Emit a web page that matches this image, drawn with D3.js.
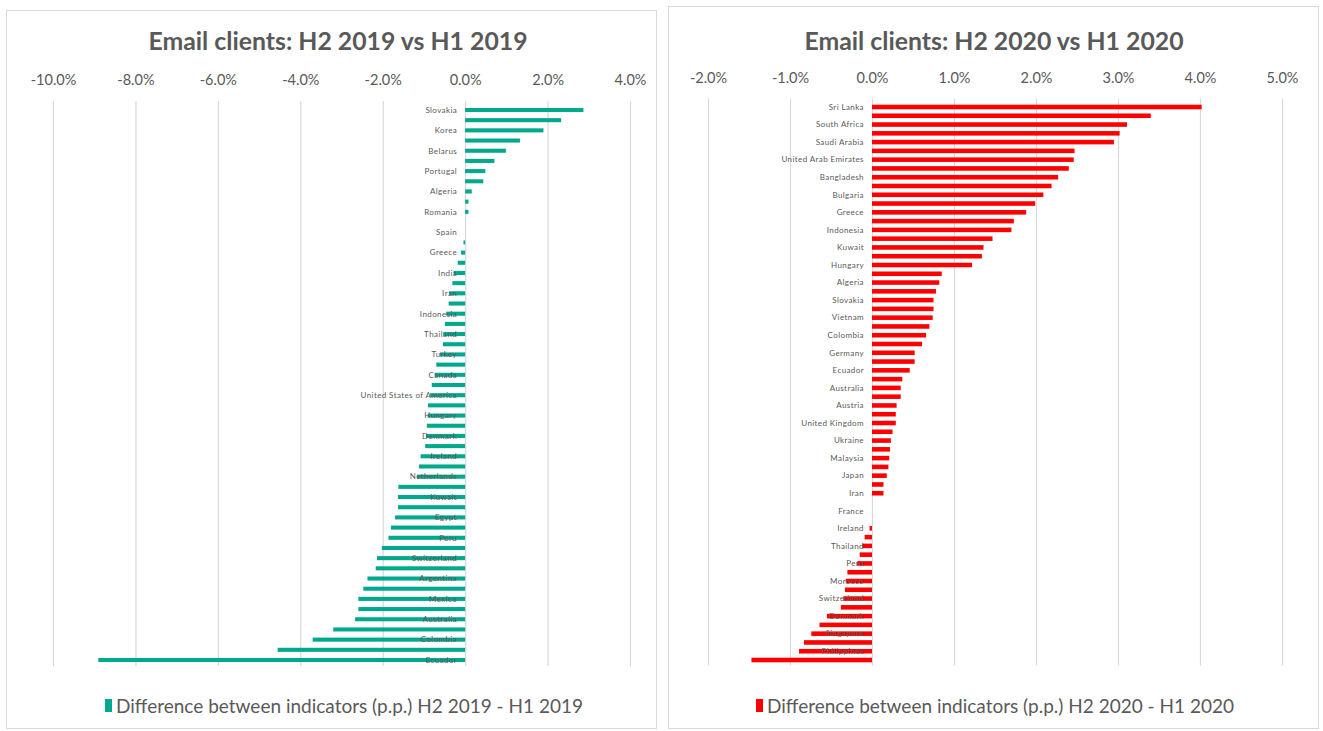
<!DOCTYPE html>
<html>
<head>
<meta charset="utf-8">
<script src="https://cdn.jsdelivr.net/npm/d3@7"></script>
<style>
  body { margin: 0; background: #ffffff; }
  svg { font-family: Lato, "Open Sans", sans-serif; }
</style>
</head>
<body>
<div id="chart"></div>
<script>
// data (values in %)
const LEFT_TITLE = "Email clients: H2 2019 vs H1 2019";
const LEFT_LEGEND = "Difference between indicators (p.p.) H2 2019 - H1 2019";
const LEFT_TICKS = [-10, -8, -6, -4, -2, 0, 2, 4];
// Excel only printed every other category name
const LEFT_LABELS = ["Slovakia", "", "Korea", "", "Belarus", "", "Portugal", "", "Algeria", "",
    "Romania", "", "Spain", "", "Greece", "", "India", "", "Iran", "",
    "Indonesia", "", "Thailand", "", "Turkey", "", "Canada", "", "United States of America", "",
    "Hungary", "", "Denmark", "", "Ireland", "", "Netherlands", "", "Kuwait", "",
    "Egypt", "", "Peru", "", "Switzerland", "", "Argentina", "", "Mexico", "",
    "Australia", "", "Colombia", "", "Ecuador"];
const LEFT_VALUES = [2.87, 2.33, 1.90, 1.33, 0.99, 0.71, 0.49, 0.44, 0.16, 0.08,
    0.08, 0, 0, -0.04, -0.10, -0.18, -0.28, -0.31, -0.39, -0.40,
    -0.46, -0.49, -0.53, -0.54, -0.61, -0.70, -0.74, -0.81, -0.85, -0.90,
    -0.91, -0.93, -0.95, -0.97, -1.08, -1.12, -1.17, -1.62, -1.63, -1.63,
    -1.70, -1.80, -1.86, -2.02, -2.14, -2.17, -2.37, -2.47, -2.59, -2.59,
    -2.67, -3.20, -3.70, -4.55, -8.90];

const RIGHT_TITLE = "Email clients: H2 2020 vs H1 2020";
const RIGHT_LEGEND = "Difference between indicators (p.p.) H2 2020 - H1 2020";
const RIGHT_TICKS = [-2, -1, 0, 1, 2, 3, 4, 5];
const RIGHT_LABELS = ["Sri Lanka", "", "South Africa", "", "Saudi Arabia", "", "United Arab Emirates", "", "Bangladesh", "",
    "Bulgaria", "", "Greece", "", "Indonesia", "", "Kuwait", "", "Hungary", "",
    "Algeria", "", "Slovakia", "", "Vietnam", "", "Colombia", "", "Germany", "",
    "Ecuador", "", "Australia", "", "Austria", "", "United Kingdom", "", "Ukraine", "",
    "Malaysia", "", "Japan", "", "Iran", "", "France", "", "Ireland", "",
    "Thailand", "", "Peru", "", "Morocco", "", "Switzerland", "", "Denmark", "",
    "Singapore", "", "Philippines", ""];
const RIGHT_VALUES = [4.02, 3.40, 3.11, 3.02, 2.95, 2.47, 2.46, 2.40, 2.27, 2.19,
    2.09, 1.99, 1.88, 1.73, 1.70, 1.47, 1.36, 1.34, 1.22, 0.85,
    0.82, 0.78, 0.75, 0.75, 0.74, 0.70, 0.66, 0.61, 0.52, 0.52,
    0.46, 0.37, 0.35, 0.35, 0.30, 0.29, 0.29, 0.25, 0.23, 0.22,
    0.21, 0.20, 0.18, 0.14, 0.14, 0, 0, 0, -0.03, -0.09,
    -0.12, -0.15, -0.18, -0.30, -0.32, -0.33, -0.35, -0.38, -0.55, -0.64,
    -0.74, -0.83, -0.89, -1.47];

// setting up constants
const FRAME_WIDTH = 1323;
const FRAME_HEIGHT = 731;
const TEXT_GREY = "#595959";
const GRID_GREY = "#d9d9d9";

const SVG = d3.select("#chart")
    .append("svg")
        .attr("width", FRAME_WIDTH)
        .attr("height", FRAME_HEIGHT);

// excel style percent, plain hyphen for the minus sign
const pct = d => d.toFixed(1) + "%";

function drawPanel(opt) {
    const g = SVG.append("g");

    // panel border
    g.append("rect")
        .attr("x", opt.box[0] + 0.5)
        .attr("y", opt.box[1] + 0.5)
        .attr("width", opt.box[2])
        .attr("height", opt.box[3])
        .attr("fill", "#ffffff")
        .attr("stroke", GRID_GREY);

    const xScale = d3.scaleLinear()
        .domain(opt.domain)
        .range(opt.xRange);

    const yScale = d3.scaleBand()
        .domain(d3.range(opt.values.length))
        .range(opt.yRange)
        .paddingInner(opt.pad)
        .paddingOuter(opt.pad / 2);

    // vertical gridlines
    g.append("g")
        .selectAll("line")
        .data(opt.ticks)
        .enter()
        .append("line")
            .attr("x1", d => xScale(d) + 0.5)
            .attr("x2", d => xScale(d) + 0.5)
            .attr("y1", opt.yRange[0] - 4)
            .attr("y2", opt.yRange[1] + 1)
            .attr("stroke", GRID_GREY)
            .attr("stroke-width", 1.2);

    // top axis labels
    const axis = g.append("g")
        .attr("transform", "translate(0," + opt.axisY + ")")
        .call(d3.axisTop(xScale)
            .tickValues(opt.ticks)
            .tickSize(0)
            .tickFormat(pct));
    axis.select(".domain").remove();
    axis.selectAll("text")
        .attr("fill", TEXT_GREY)
        .attr("font-family", "Lato, sans-serif")
        .attr("font-size", 14.5);

    // bars
    g.append("g")
        .selectAll("rect")
        .data(opt.values)
        .enter()
        .append("rect")
            .attr("x", d => xScale(Math.min(0, d)))
            .attr("y", (d, i) => yScale(i))
            .attr("width", d => Math.abs(xScale(d) - xScale(0)))
            .attr("height", yScale.bandwidth())
            .attr("fill", opt.color);

    // category labels, right aligned just left of zero
    g.append("g")
        .selectAll("text")
        .data(opt.labels)
        .enter()
        .append("text")
            .attr("x", xScale(0) - 8)
            .attr("y", (d, i) => yScale(i) + yScale.bandwidth() / 2)
            .attr("dy", "0.35em")
            .attr("text-anchor", "end")
            .attr("font-size", 8)
            .attr("letter-spacing", 0.4)
            .attr("fill", TEXT_GREY)
            .text(d => d);

    // title
    g.append("text")
        .attr("x", opt.titleX)
        .attr("y", 50)
        .attr("text-anchor", "middle")
        .attr("font-size", 24.8)
        .attr("font-weight", "bold")
        .attr("fill", TEXT_GREY)
        .text(opt.title);

    // legend
    const leg = g.append("g")
        .attr("transform", "translate(" + opt.legendX + ",706)");
    leg.append("rect")
        .attr("x", 0)
        .attr("y", -7)
        .attr("width", 7)
        .attr("height", 13)
        .attr("fill", opt.color);
    leg.append("text")
        .attr("x", 11)
        .attr("dy", "0.35em")
        .attr("font-size", 19)
        .attr("fill", TEXT_GREY)
        .text(opt.legend);
}

drawPanel({
    box: [6, 10, 650, 718],
    domain: [-10, 4],
    xRange: [53, 630],
    ticks: LEFT_TICKS,
    yRange: [104.9, 665.1],
    pad: 0.6,
    axisY: 88,
    values: LEFT_VALUES,
    labels: LEFT_LABELS,
    color: "#00a88e",
    title: LEFT_TITLE,
    titleX: 338,
    legend: LEFT_LEGEND,
    legendX: 105
});

drawPanel({
    box: [668, 6, 650, 722],
    domain: [-2, 5],
    xRange: [708, 1282],
    ticks: RIGHT_TICKS,
    yRange: [102.6, 664.4],
    pad: 0.48,
    axisY: 86,
    values: RIGHT_VALUES,
    labels: RIGHT_LABELS,
    color: "#ff0000",
    title: RIGHT_TITLE,
    titleX: 994,
    legend: RIGHT_LEGEND,
    legendX: 756
});
</script>
</body>
</html>
